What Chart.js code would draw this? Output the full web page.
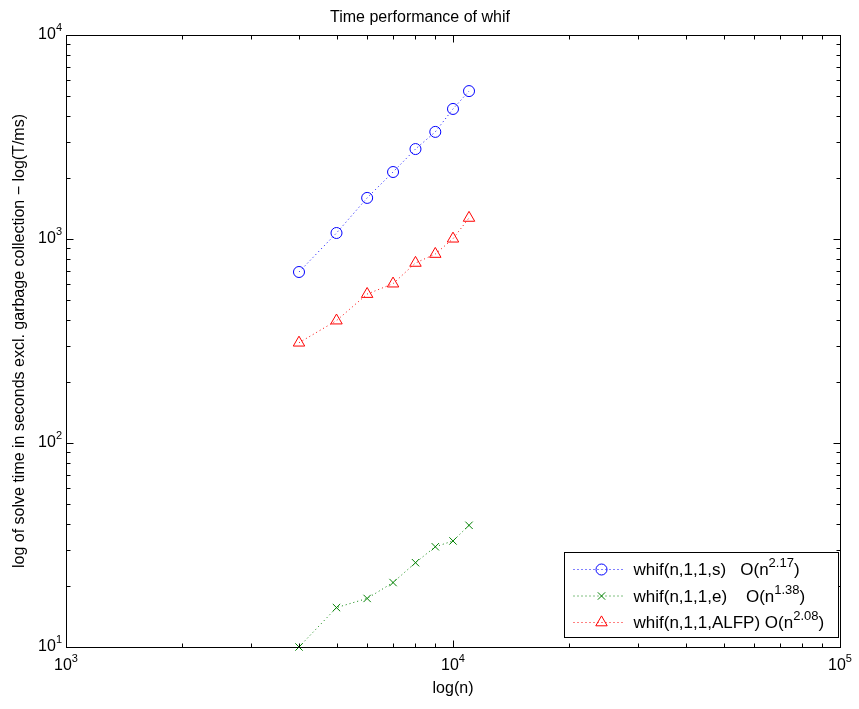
<!DOCTYPE html>
<html>
<head>
<meta charset="utf-8">
<title>Time performance of whif</title>
<script src="https://cdn.jsdelivr.net/npm/chart.js@4.4.1/dist/chart.umd.min.js"></script>
<style>
  html, body { margin: 0; padding: 0; background: #fff; }
  canvas { display: block; }
</style>
</head>
<body>
<canvas id="chart" width="859" height="709"></canvas>
<script>
// problem size n
var nValues = [4000, 5000, 6000, 7000, 8000, 9000, 10000, 11000];

// solve times
var timesS    = [689, 1070, 1590, 2130, 2760, 3350, 4340, 5310];
var timesE    = [10.0, 15.6, 17.3, 20.7, 25.9, 31.0, 33.1, 39.5];
var timesALFP = [310, 398, 537, 604, 763, 844, 1003, 1268];

// legend texts and fitted orders
var seriesNames  = ['whif(n,1,1,s)   O(n', 'whif(n,1,1,e)    O(n', 'whif(n,1,1,ALFP) O(n'];
var seriesOrders = ['2.17', '1.38', '2.08'];

// decade ticks (labelled as 10^k)
var xDecades = [1e3, 1e4, 1e5];
var yDecades = [1e1, 1e2, 1e3, 1e4];

var FONT = "'Liberation Sans', Arial, Helvetica, sans-serif";

var styles = [
  { color: '#0000ff', pointStyle: 'circle',   radius: 5.5 },
  { color: '#008000', pointStyle: 'crossRot', radius: 5.2 },
  { color: '#ff0000', pointStyle: 'triangle', radius: 6.6 }
];
var allValues = [timesS, timesE, timesALFP];

function toPoints(vals) {
  return nValues.map(function (n, i) { return { x: n, y: vals[i] }; });
}

var datasets = allValues.map(function (vals, i) {
  var st = styles[i];
  return {
    label: seriesNames[i] + seriesOrders[i] + ')',
    data: toPoints(vals),
    showLine: true,
    borderColor: st.color,
    borderWidth: 1,
    borderDash: [1, 3],
    pointStyle: st.pointStyle,
    pointRadius: st.radius,
    pointBorderColor: st.color,
    pointBackgroundColor: 'rgba(0,0,0,0)',
    pointBorderWidth: 1,
    tension: 0,
    fill: false,
    clip: false
  };
});

// draw a base text with a raised exponent; align is 'left', 'center' or 'right'
function drawPow(ctx, base, exp, x, y, align, baseSize, supSize, raise) {
  ctx.font = baseSize + 'px ' + FONT;
  var wb = ctx.measureText(base).width;
  ctx.font = supSize + 'px ' + FONT;
  var we = ctx.measureText(exp).width;
  var x0 = x;
  if (align === 'right') x0 = x - wb - we;
  else if (align === 'center') x0 = x - (wb + we) / 2;
  ctx.textAlign = 'left';
  ctx.textBaseline = 'middle';
  ctx.font = baseSize + 'px ' + FONT;
  ctx.fillText(base, x0, y);
  ctx.font = supSize + 'px ' + FONT;
  ctx.fillText(exp, x0 + wb, y - raise);
  return x0 + wb + we;
}

// box, inward ticks on all four sides and the 10^k labels
var axesBox = {
  id: 'axesBox',
  afterDatasetsDraw: function (chart) {
    var ctx = chart.ctx;
    var a = chart.chartArea;
    var xs = chart.scales.x, ys = chart.scales.y;
    var L = Math.round(a.left) + 0.5, R = Math.round(a.right) + 0.5;
    var T = Math.round(a.top) + 0.5, B = Math.round(a.bottom) + 0.5;
    ctx.save();
    ctx.strokeStyle = '#000';
    ctx.lineWidth = 1;
    ctx.setLineDash([]);
    ctx.strokeRect(L, T, R - L, B - T);

    ctx.beginPath();
    xDecades.forEach(function (d, i) {
      for (var k = 1; k <= 9; k++) {
        if (i === xDecades.length - 1 && k > 1) break;
        var px = Math.round(xs.getPixelForValue(d * k)) + 0.5;
        var len = k === 1 ? 7 : 4;
        ctx.moveTo(px, B); ctx.lineTo(px, B - len);
        ctx.moveTo(px, T); ctx.lineTo(px, T + len);
      }
    });
    yDecades.forEach(function (d, i) {
      for (var k = 1; k <= 9; k++) {
        if (i === yDecades.length - 1 && k > 1) break;
        var py = Math.round(ys.getPixelForValue(d * k)) + 0.5;
        var len = k === 1 ? 7 : 4;
        ctx.moveTo(L, py); ctx.lineTo(L + len, py);
        ctx.moveTo(R, py); ctx.lineTo(R - len, py);
      }
    });
    ctx.stroke();

    ctx.fillStyle = '#000';
    xDecades.forEach(function (d) {
      drawPow(ctx, '10', String(Math.round(Math.log10(d))), xs.getPixelForValue(d), a.bottom + 19, 'center', 16, 11, 7);
    });
    yDecades.forEach(function (d) {
      drawPow(ctx, '10', String(Math.round(Math.log10(d))), a.left - 4, ys.getPixelForValue(d), 'right', 16, 11, 7);
    });
    ctx.restore();
  }
};

// boxed legend in the lower right corner
var boxLegend = {
  id: 'boxLegend',
  afterDraw: function (chart) {
    var ctx = chart.ctx;
    var a = chart.chartArea;
    var bx = Math.round(a.right) - 276 + 0.5, by = Math.round(a.bottom) - 95 + 0.5;
    var bw = 274, bh = 85;
    ctx.save();
    ctx.fillStyle = '#fff';
    ctx.fillRect(bx, by, bw, bh);
    ctx.strokeStyle = '#000';
    ctx.lineWidth = 1;
    ctx.strokeRect(bx, by, bw, bh);

    chart.data.datasets.forEach(function (ds, i) {
      var y = by + 17 + i * 26.5;
      ctx.strokeStyle = ds.borderColor;
      ctx.lineWidth = 1;
      ctx.setLineDash([1, 3]);
      ctx.beginPath();
      ctx.moveTo(bx + 9, y);
      ctx.lineTo(bx + 60, y);
      ctx.stroke();
      ctx.setLineDash([]);
      ctx.fillStyle = 'rgba(0,0,0,0)';
      Chart.helpers.drawPoint(ctx, {
        pointStyle: ds.pointStyle,
        radius: ds.pointRadius,
        borderWidth: 1,
        rotation: 0
      }, bx + 37, y);
      ctx.fillStyle = '#000';
      var end = drawPow(ctx, seriesNames[i], seriesOrders[i], bx + 69, y + 1, 'left', 17, 13, 7);
      ctx.font = '17px ' + FONT;
      ctx.textBaseline = 'middle';
      ctx.fillText(')', end, y + 1);
    });
    ctx.restore();
  }
};

var axisFont = { family: FONT, size: 16, weight: 'normal' };

new Chart(document.getElementById('chart'), {
  type: 'scatter',
  data: { datasets: datasets },
  options: {
    responsive: false,
    devicePixelRatio: 1,
    animation: false,
    layout: { padding: { top: 0, right: 19, bottom: 0, left: 0 } },
    plugins: {
      legend: { display: false },
      tooltip: { enabled: false },
      title: {
        display: true,
        text: 'Time performance of whif',
        color: '#000',
        font: axisFont,
        padding: { top: 8, bottom: 7.8 }
      }
    },
    scales: {
      x: {
        type: 'logarithmic',
        position: 'bottom',
        min: 1000,
        max: 100000,
        afterBuildTicks: function (s) { s.ticks = xDecades.map(function (v) { return { value: v }; }); },
        afterFit: function (s) { s.height = 62; },
        ticks: { display: false },
        grid: { display: false },
        border: { display: false },
        title: { display: true, text: 'log(n)', color: '#000', font: axisFont, padding: { top: 0, bottom: 11 } }
      },
      y: {
        type: 'logarithmic',
        position: 'left',
        min: 10,
        max: 10000,
        afterBuildTicks: function (s) { s.ticks = yDecades.map(function (v) { return { value: v }; }); },
        afterFit: function (s) { s.width = 66; },
        ticks: { display: false },
        grid: { display: false },
        border: { display: false },
        title: {
          display: true,
          text: 'log of solve time in seconds excl. garbage collection \u2212 log(T/ms)',
          color: '#000',
          font: axisFont,
          padding: { top: 10, bottom: 0 }
        }
      }
    }
  },
  plugins: [axesBox, boxLegend]
});
</script>
</body>
</html>
